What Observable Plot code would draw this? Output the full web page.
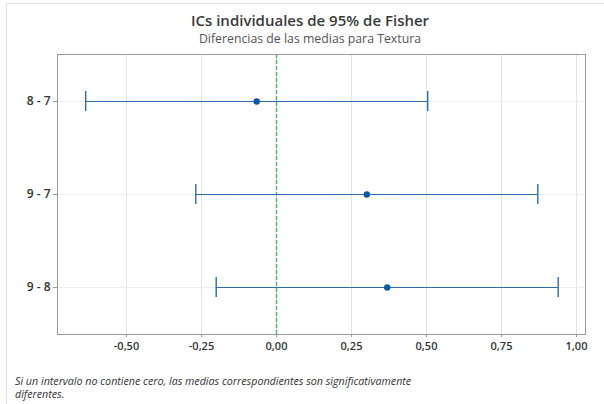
<!DOCTYPE html>
<html><head><meta charset="utf-8">
<script src="https://cdn.jsdelivr.net/npm/d3@7"></script>
<script src="https://cdn.jsdelivr.net/npm/@observablehq/plot@0.6"></script>
<style>
body{margin:0;background:#fff;}
#wrap{position:relative;width:604px;height:404px;overflow:hidden;font-family:"Open Sans",sans-serif;background:#fff;}
#border{position:absolute;left:6px;top:3px;width:700px;height:500px;border-left:1px solid #e2e2e2;border-top:1px solid #e2e2e2;}
#title{position:absolute;left:10px;width:600px;top:10px;text-align:center;font-size:15px;font-weight:600;color:#3a3a3a;line-height:20px;}
#subtitle{position:absolute;left:10px;width:600px;top:31px;text-align:center;font-size:12.3px;color:#555;line-height:16px;}
#caption{position:absolute;left:15px;top:375px;font-size:10.7px;font-style:italic;color:#333;line-height:13px;width:440px;}
#chart{position:absolute;left:0;top:0;}
</style></head>
<body>
<div id="wrap">
<div id="border"></div>
<div id="chart"></div>
<div id="title">ICs individuales de 95% de Fisher</div>
<div id="subtitle">Diferencias de las medias para Textura</div>
<div id="caption">Si un intervalo no contiene cero, las medias correspondientes son significativamente diferentes.</div>
</div>
<script>
const comparisons = ["8 - 7", "9 - 7", "9 - 8"];
const diffs = [-0.066, 0.301, 0.369];
const lowers = [-0.636, -0.269, -0.201];
const uppers = [0.504, 0.871, 0.939];
const xTicks = [-0.5, -0.25, 0, 0.25, 0.5, 0.75, 1];

const data = comparisons.map((c, i) => ({c, d: diffs[i], lo: lowers[i], hi: uppers[i]}));
const fmt = v => d3.format(".2f")(v).replace("\u2212", "-").replace(".", ",");
const lineColor = "#2b6cb5";

const chart = Plot.plot({
  width: 604, height: 404,
  marginTop: 54, marginBottom: 70, marginLeft: 57, marginRight: 19,
  style: {fontFamily: "Open Sans", fontSize: "11px", color: "#333", background: "transparent"},
  x: {domain: [-0.73, 1.03]},
  y: {domain: comparisons, type: "band", paddingInner: 0.79, paddingOuter: 0.395},
  marks: [
    Plot.gridX(xTicks, {stroke: "#e3e3e3", strokeOpacity: 1}),
    Plot.gridY(comparisons, {stroke: "#ededed", strokeOpacity: 1}),
    Plot.ruleX([0], {stroke: "#55b465", strokeDasharray: "4,2", strokeWidth: 1.4}),
    Plot.ruleY(data, {y: "c", x1: "lo", x2: "hi", stroke: lineColor, strokeWidth: 1.2}),
    Plot.tickX(data, {y: "c", x: "lo", stroke: lineColor, strokeWidth: 1.4}),
    Plot.tickX(data, {y: "c", x: "hi", stroke: lineColor, strokeWidth: 1.4}),
    Plot.dot(data, {y: "c", x: "d", r: 3.2, fill: "#0a56a8", stroke: "none"}),
    Plot.frame({stroke: "#9a9a9a"}),
    Plot.axisX(xTicks, {tickFormat: fmt, tickSize: 3, tickPadding: 5, fontSize: 11, fontWeight: 600, label: null, stroke: "#9a9a9a"}),
    Plot.axisY({tickSize: 4, tickPadding: 3, fontSize: 12, fontWeight: 600, label: null, stroke: "#9a9a9a"})
  ]
});
document.getElementById("chart").appendChild(chart);
</script>
</body></html>
